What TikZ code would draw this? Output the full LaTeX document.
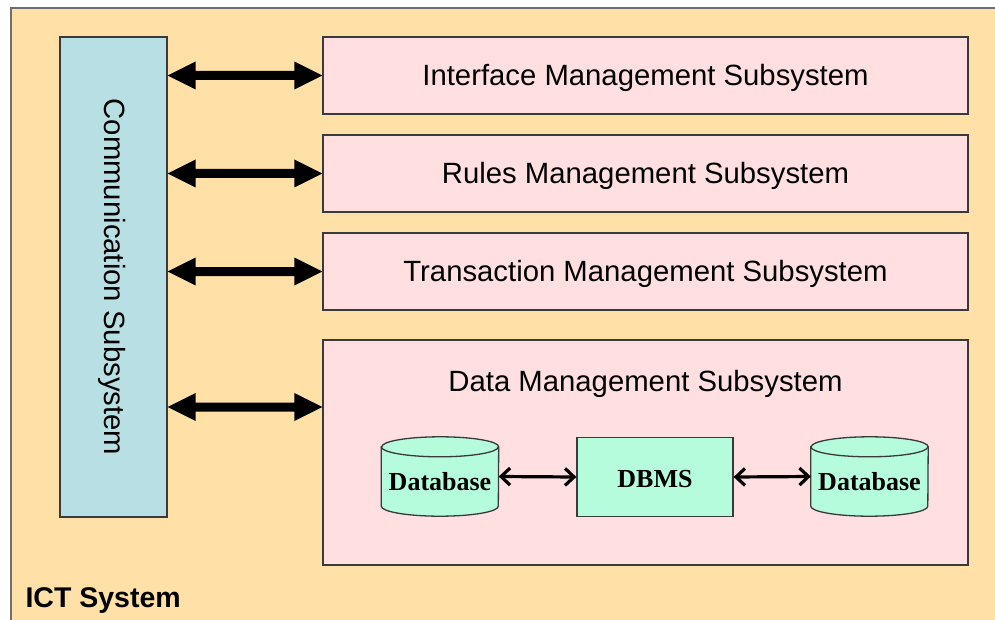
\documentclass[tikz,border=0pt]{standalone}
\usepackage{fontspec}
\setmainfont{Liberation Sans}
\newfontfamily\dbfont{Liberation Serif}
\usetikzlibrary{arrows.meta,calc}

\definecolor{framefill}{HTML}{FFE1A8}
\definecolor{framedraw}{HTML}{6E6E6E}
\definecolor{subfill}{HTML}{FFDFE0}
\definecolor{commfill}{HTML}{B8DFE3}
\definecolor{dbfill}{HTML}{B5FCDC}
\definecolor{boxdraw}{HTML}{3A3A3A}

% thick double-headed connector drawn as one filled outline
\newcommand\dblarrow[2]{%
  \fill[black]
    (#1) -- ($(#1)+(28,14)$) -- ($(#1)+(28,4.5)$) -- ($(#2)+(-28,4.5)$)
    -- ($(#2)+(-28,14)$) -- (#2) -- ($(#2)+(-28,-14)$) -- ($(#2)+(-28,-4.5)$)
    -- ($(#1)+(28,-4.5)$) -- ($(#1)+(28,-14)$) -- cycle;}

% database cylinder around a named node
\newcommand\dbcylinder[1]{%
  \draw[boxdraw, line width=1.3pt, fill=dbfill]
    ([yshift=-10pt]#1.north west) -- ([yshift=10pt]#1.south west)
    arc[start angle=180, end angle=360, x radius=58.5pt, y radius=10pt]
    -- ([yshift=-10pt]#1.north east)
    arc[start angle=0, end angle=180, x radius=58.5pt, y radius=10pt] -- cycle;
  \draw[boxdraw, line width=1.3pt]
    ([yshift=-10pt]#1.north west)
    arc[start angle=180, end angle=360, x radius=58.5pt, y radius=10pt];}

\begin{document}
\begin{tikzpicture}[x=1pt,y=1pt,
  subbox/.style={draw=boxdraw, line width=1.4pt, fill=subfill,
    minimum width=645pt, inner sep=0pt, text height=25.5pt, text depth=6.2pt,
    font=\fontsize{29.3}{35}\selectfont},
  commbox/.style={draw=boxdraw, line width=1.4pt, fill=commfill,
    minimum width=107pt, minimum height=480pt, inner sep=0pt},
  dbnode/.style={minimum width=117pt, minimum height=79pt, inner sep=0pt},
  dbmsbox/.style={draw=boxdraw, line width=1.3pt, fill=dbfill,
    minimum width=156pt, minimum height=79pt, inner sep=0pt},
  dblabel/.style={font=\dbfont\bfseries\fontsize{26}{30}\selectfont},
  thinlink/.style={line width=3.2pt,
    {Straight Barb[length=9pt,width=17pt]}-{Straight Barb[length=9pt,width=17pt]}},
  plain/.style={font=\fontsize{29.3}{35}\selectfont}]

\useasboundingbox (0,0) rectangle (995,-620);
\clip (0,0) rectangle (995,-620);

% outer system frame
\draw[framedraw, line width=1.5pt, fill=framefill] (11,-8) rectangle (1020,-650);
\node[anchor=base west, font=\bfseries\fontsize{28.5}{34}\selectfont] (ict) at (22,-607) {ICT System};

% communication column
\node[commbox] (comm) at (113.5,-277) {};
\node[plain, rotate=-90] (commtext) at ([xshift=-1pt]comm.center) {Communication Subsystem};

% subsystem boxes
\node[subbox, minimum height=77pt] (ifc) at (645.5,-75.5) {Interface Management Subsystem};
\node[subbox, minimum height=77pt] (rules) at (645.5,-173.5) {Rules Management Subsystem};
\node[subbox, minimum height=77pt] (trans) at (645.5,-271.5) {Transaction Management Subsystem};
\node[subbox, minimum height=225pt, text height=0pt, text depth=0pt] (data) at (645.5,-452.5) {};
\node[plain] (datatitle) at (645.5,-384) {Data Management Subsystem};

% links from the communication column
\coordinate (dport) at ([yshift=45.5pt]data.west);
\dblarrow{comm.east |- ifc.west}{ifc.west}
\dblarrow{comm.east |- rules.west}{rules.west}
\dblarrow{comm.east |- trans.west}{trans.west}
\dblarrow{comm.east |- dport}{dport}

% data layer
\node[dbnode] (db1) at (440,-476.5) {};
\dbcylinder{db1}
\node[dblabel] (db1text) at ([yshift=-5pt]db1.center) {Database};
\node[dbmsbox] (dbms) at (655,-477) {};
\node[dblabel] (dbmstext) at ([yshift=-2pt]dbms.center) {DBMS};
\node[dbnode] (db2) at (869.5,-476.5) {};
\dbcylinder{db2}
\node[dblabel] (db2text) at ([yshift=-5pt]db2.center) {Database};

\draw[thinlink] (db1.east) -- (dbms.west);
\draw[thinlink] (dbms.east) -- (db2.west);
\end{tikzpicture}
\end{document}
